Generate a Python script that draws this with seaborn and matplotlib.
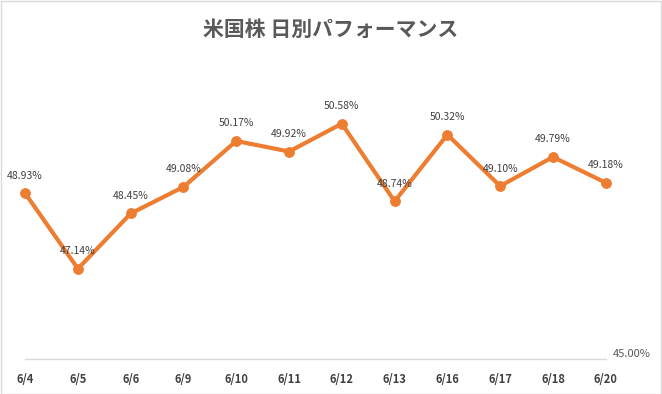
import pandas as pd
import seaborn as sns
import matplotlib.pyplot as plt

# daily values (%)
dates = ["6/4", "6/5", "6/6", "6/9", "6/10", "6/11", "6/12", "6/13", "6/16", "6/17", "6/18", "6/20"]
perf = [48.93, 47.14, 48.45, 49.08, 50.17, 49.92, 50.58, 48.74, 50.32, 49.10, 49.79, 49.18]

df = pd.DataFrame({"date": dates, "perf": perf})
df["pos"] = range(len(df))

sns.set_style("white")
plt.rcParams["font.family"] = ["Noto Sans CJK JP", "DejaVu Sans"]

fig = plt.figure(figsize=(6.62, 3.94), dpi=100)
ax = fig.add_axes([0.038, 0.089, 0.877, 0.749])

sns.lineplot(x="pos", y="perf", data=df, ax=ax, color="#ED7D31", linewidth=3,
             marker="o", markersize=7, markeredgecolor="#ED7D31", clip_on=False)

for x, y in zip(df["pos"], df["perf"]):
    ax.annotate(f"{y:.2f}%", (x, y), xytext=(0, 9), textcoords="offset points",
                ha="center", va="bottom", fontsize=7.5, color="#404040")

ax.set_xlim(0, len(dates) - 1)
ax.set_ylim(45, 52)
ax.set_xticks(df["pos"])
ax.set_xticklabels(dates, fontsize=8, color="#404040", fontweight="bold")
ax.set_yticks([])
ax.tick_params(axis="x", length=0, pad=10)
ax.set_xlabel("")
ax.set_ylabel("")
for s in ["top", "right", "left"]:
    ax.spines[s].set_visible(False)
ax.spines["bottom"].set_color("#D9D9D9")
ax.spines["bottom"].set_linewidth(1)

ax.text(1.013, 0.0, "45.00%", transform=ax.transAxes, fontsize=8,
        color="#595959", ha="left", va="bottom")

fig.text(0.5, 0.925, "米国株 日別パフォーマンス", ha="center", va="center",
         fontsize=15, color="#595959", fontweight="bold")

fig.patches.append(plt.Rectangle((0.001, 0.001), 0.997, 0.997, transform=fig.transFigure,
                                 fill=False, edgecolor="#D9D9D9", linewidth=1))

fig.savefig("out.png", dpi=100)
